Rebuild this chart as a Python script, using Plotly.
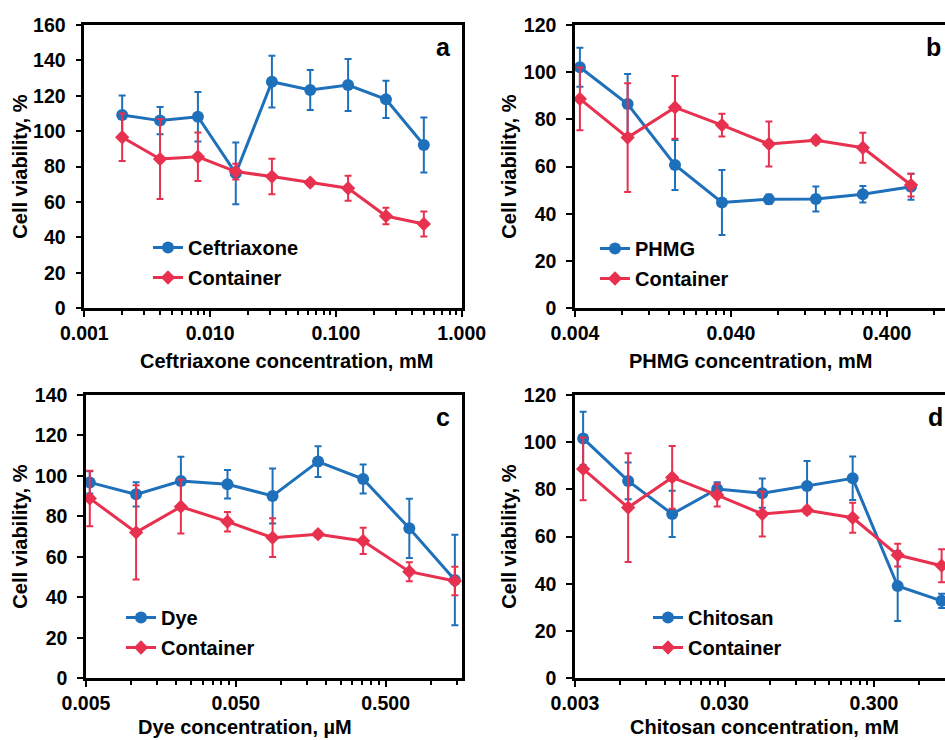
import plotly.graph_objects as go

# ---------------- data ----------------
# Panel a
a_x = [0.002, 0.004, 0.008, 0.016, 0.031, 0.0625, 0.125, 0.25, 0.5]
a_ceft = [109.2, 106.0, 108.2, 76.2, 128.0, 123.3, 126.1, 118.0, 92.2]
a_ceft_err = [11.0, 7.7, 14.0, 17.5, 14.6, 11.3, 14.7, 10.5, 15.5]
a_cont = [96.6, 84.3, 85.6, 77.2, 74.4, 71.0, 67.8, 52.1, 47.6]
a_cont_err = [13.4, 22.6, 13.7, 4.5, 10.0, 1.5, 7.0, 4.7, 7.0]

# Panel b
b_x = [0.0043, 0.0087, 0.0175, 0.035, 0.07, 0.14, 0.28, 0.57]
b_phmg = [102.1, 86.5, 60.7, 44.8, 46.2, 46.3, 48.3, 51.5]
b_phmg_err = [8.3, 12.7, 10.6, 13.8, 2.0, 5.3, 3.5, 5.5]
b_cont = [88.7, 72.3, 85.1, 77.6, 69.6, 71.2, 68.0, 52.2]
b_cont_err = [13.3, 23.0, 13.3, 4.8, 9.5, 1.5, 6.4, 4.8]

# Panel c
c_x = [0.0053, 0.0108, 0.0215, 0.044, 0.088, 0.177, 0.354, 0.72, 1.45]
c_dye = [96.8, 90.9, 97.5, 95.9, 90.1, 107.1, 98.5, 74.1, 48.6]
c_dye_err = [5.5, 6.0, 12.0, 7.0, 13.6, 7.6, 7.2, 14.6, 22.4]
c_cont = [88.9, 72.1, 84.8, 77.4, 69.5, 71.2, 67.9, 52.7, 48.1]
c_cont_err = [13.7, 23.3, 13.3, 4.8, 9.6, 1.5, 6.5, 4.7, 7.0]

# Panel d
d_x = [0.0034, 0.0068, 0.0134, 0.0268, 0.0537, 0.107, 0.216, 0.432, 0.85]
d_chit = [101.6, 83.6, 69.6, 80.2, 78.4, 81.5, 84.7, 39.1, 32.8]
d_chit_err = [11.3, 7.8, 9.8, 2.8, 6.2, 10.5, 9.2, 14.8, 3.0]
d_cont = [88.7, 72.3, 85.1, 77.6, 69.6, 71.2, 68.0, 52.2, 47.7]
d_cont_err = [13.3, 23.0, 13.3, 4.8, 9.5, 1.5, 6.4, 4.8, 7.0]

# tick labels
a_ticks = [0.001, 0.01, 0.1, 1.0]
a_ticktext = ["0.001", "0.010", "0.100", "1.000"]
b_ticks = [0.004, 0.04, 0.4]
b_ticktext = ["0.004", "0.040", "0.400"]
c_ticks = [0.005, 0.05, 0.5]
c_ticktext = ["0.005", "0.050", "0.500"]
d_ticks = [0.003, 0.03, 0.3]
d_ticktext = ["0.003", "0.030", "0.300"]

series_names = {
    "a": ("Ceftriaxone", "Container"),
    "b": ("PHMG", "Container"),
    "c": ("Dye", "Container"),
    "d": ("Chitosan", "Container"),
}
x_titles = {
    "a": "Ceftriaxone concentration, mM",
    "b": "PHMG concentration, mM",
    "c": "Dye concentration, \u00b5M",
    "d": "Chitosan concentration, mM",
}
y_title = "Cell viability, %"

# ---------------- styling ----------------
W, H = 945, 740
BLUE = "#1f70ba"
RED = "#e8304f"
FONT = "Liberation Sans, Arial, sans-serif"
FS = 19.5
FT = 20

def px(v):
    return v / W

def py(v):
    return 1 - v / H

panels = {
    "a": dict(x0=84.3, x1=461.7, yt=25, yb=308.3, lstart=-3.0, dec=125.8, ymax=160,
              x=a_x, s1=a_ceft, e1=a_ceft_err, s2=a_cont, e2=a_cont_err,
              ticks=a_ticks, ttext=a_ticktext, base=0.001, right=True,
              leg=(148, 228), xt=(286, 361), yt_x=20, letter=(443, 47)),
    "b": dict(x0=575, x1=945, yt=25, yb=308.3, lstart=-2.39794, dec=156.0, ymax=120,
              x=b_x, s1=b_phmg, e1=b_phmg_err, s2=b_cont, e2=b_cont_err,
              ticks=b_ticks, ttext=b_ticktext, base=0.004, right=False,
              leg=(595, 229), xt=(750, 361), yt_x=509, letter=(933, 47)),
    "c": dict(x0=86, x1=462, yt=395, yb=678.3, lstart=-2.30103, dec=149.8, ymax=140,
              x=c_x, s1=c_dye, e1=c_dye_err, s2=c_cont, e2=c_cont_err,
              ticks=c_ticks, ttext=c_ticktext, base=0.005, right=True,
              leg=(121, 598), xt=(245, 727), yt_x=20, letter=(443, 417)),
    "d": dict(x0=575, x1=945, yt=395, yb=678.3, lstart=-2.52288, dec=149.5, ymax=120,
              x=d_x, s1=d_chit, e1=d_chit_err, s2=d_cont, e2=d_cont_err,
              ticks=d_ticks, ttext=d_ticktext, base=0.003, right=False,
              leg=(648, 598), xt=(764, 727), yt_x=509, letter=(935, 417)),
}

fig = go.Figure()
annotations = []
layout = dict(
    width=W, height=H,
    margin=dict(l=0, r=0, t=0, b=0, autoexpand=False),
    paper_bgcolor="white", plot_bgcolor="white",
    font=dict(family=FONT, size=FS, color="black", weight="bold"),
    showlegend=True,
)

for i, (key, p) in enumerate(panels.items(), start=1):
    xa = "x" if i == 1 else f"x{i}"
    ya = "y" if i == 1 else f"y{i}"
    leg = "legend" if i == 1 else f"legend{i}"
    n1, n2 = series_names[key]
    fig.add_trace(go.Scatter(
        x=p["x"], y=p["s1"], name=n1, mode="lines+markers",
        line=dict(color=BLUE, width=3),
        marker=dict(symbol="circle", size=12, color=BLUE),
        error_y=dict(type="data", array=p["e1"], visible=True, color=BLUE, thickness=2, width=3.5),
        xaxis=xa, yaxis=ya, legend=leg, legendgroup=f"{key}1",
    ))
    fig.add_trace(go.Scatter(
        x=p["x"], y=p["s2"], name=n2, mode="lines+markers",
        line=dict(color=RED, width=3),
        marker=dict(symbol="diamond", size=11, color=RED),
        error_y=dict(type="data", array=p["e2"], visible=True, color=RED, thickness=2, width=3.5),
        xaxis=xa, yaxis=ya, legend=leg, legendgroup=f"{key}2",
    ))
    span = (p["x1"] - p["x0"]) / p["dec"]
    minor_vals = [p["base"] * m * 10 ** k for k in range(0, 4) for m in range(2, 10)]
    xname = "xaxis" if i == 1 else f"xaxis{i}"
    yname = "yaxis" if i == 1 else f"yaxis{i}"
    layout[xname] = dict(
        type="log", range=[p["lstart"], p["lstart"] + span],
        domain=[px(p["x0"]), px(p["x1"])], anchor=ya, automargin=False,
        tickmode="array", tickvals=p["ticks"], ticktext=p["ttext"],
        ticks="outside", ticklen=6, tickwidth=2, tickcolor="black",
        minor=dict(tickmode="array", tickvals=minor_vals, ticks="outside", ticklen=4,
                   tickwidth=2, tickcolor="black", showgrid=False),
        showline=True, linewidth=2.5, linecolor="black", mirror=True,
        showgrid=False, zeroline=False,
        tickfont=dict(family=FONT, size=FS, color="black", weight="bold"),
        ticklabelstandoff=0,
    )
    layout[yname] = dict(
        range=[0, p["ymax"]], dtick=20,
        domain=[py(p["yb"]), py(p["yt"])], anchor=xa, automargin=False,
        ticks="outside", ticklen=6, tickwidth=2, tickcolor="black",
        showline=True, linewidth=2.5, linecolor="black",
        mirror=True if p["right"] else False,
        showgrid=False, zeroline=False,
        tickfont=dict(family=FONT, size=FS, color="black", weight="bold"),
        ticklabelstandoff=6,
    )
    layout[leg] = dict(
        x=px(p["leg"][0]), y=py(p["leg"][1]), xanchor="left", yanchor="top",
        bgcolor="rgba(0,0,0,0)", borderwidth=0, itemwidth=30,
        font=dict(family=FONT, size=FT, color="black", weight="bold"),
        tracegroupgap=1,
    )
    annotations.append(dict(
        text=x_titles[key], x=px(p["xt"][0]), y=py(p["xt"][1]),
        xref="paper", yref="paper", xanchor="center", yanchor="middle", showarrow=False,
        font=dict(family=FONT, size=FT, color="black", weight="bold"),
    ))
    annotations.append(dict(
        text=y_title, x=px(p["yt_x"]), y=py((p["yt"] + p["yb"]) / 2),
        xref="paper", yref="paper", xanchor="center", yanchor="middle", showarrow=False,
        textangle=-90,
        font=dict(family=FONT, size=FT, color="black", weight="bold"),
    ))
    annotations.append(dict(
        text=key, x=px(p["letter"][0]), y=py(p["letter"][1]),
        xref="paper", yref="paper", xanchor="center", yanchor="middle", showarrow=False,
        font=dict(family=FONT, size=25, color="black", weight="bold"),
    ))

layout["annotations"] = annotations
fig.update_layout(**layout)
fig.write_html("out.html")
